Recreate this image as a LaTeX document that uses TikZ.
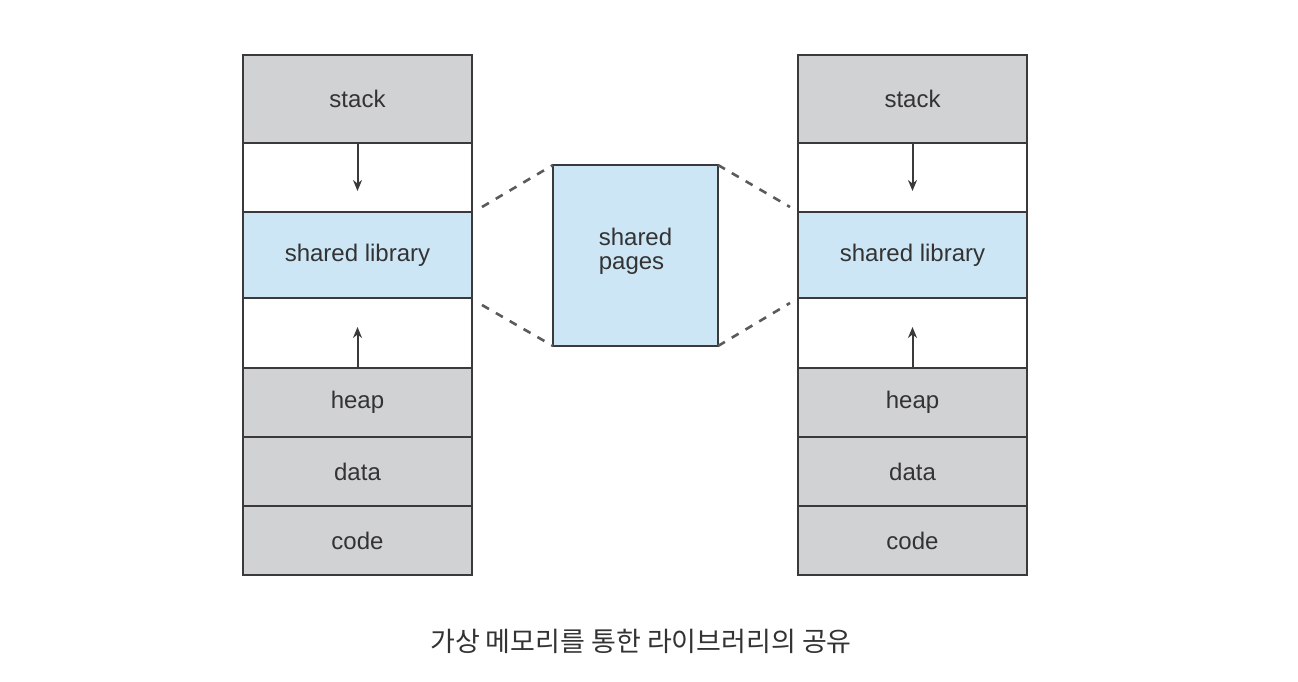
\documentclass[tikz,border=0pt]{standalone}
\usepackage{fontspec}
\setmainfont{Liberation Sans}
\newfontfamily\cjk{Noto Sans CJK KR}
\usetikzlibrary{arrows.meta}
\definecolor{segray}{HTML}{D1D2D4}
\definecolor{seblue}{HTML}{CDE6F5}
\definecolor{edge}{HTML}{3A3A3A}
\definecolor{dashcol}{HTML}{5A5A5A}
\definecolor{txt}{HTML}{333333}
\tikzset{
  seg/.style={draw=edge, line width=2pt, inner sep=0pt, outer sep=0pt, minimum width=229pt, text=txt, font=\fontsize{24}{28}\selectfont},
  grayseg/.style={seg, fill=segray},
  blueseg/.style={seg, fill=seblue},
  freeseg/.style={seg, fill=white},
  dashline/.style={draw=dashcol, line width=2.6pt, dash pattern=on 8pt off 8pt},
  growarrow/.style={draw=edge, line width=2pt, -{Stealth[length=11pt,width=9pt]}},
}
\begin{document}
\begin{tikzpicture}[x=1pt,y=-1pt]
\useasboundingbox (0,0) rectangle (1298,682);
% left column
\node[grayseg, minimum height=88pt] (Lstack) at (357.5,99) {stack};
\node[freeseg, minimum height=69pt] (Lfree1) at (357.5,177.5) {};
\node[blueseg, minimum height=86pt] (Lshlib) at (357.5,255) {shared library};
\node[freeseg, minimum height=70pt] (Lfree2) at (357.5,333) {};
\node[grayseg, minimum height=69pt] (Lheap) at (357.5,402.5) {heap};
\node[grayseg, minimum height=69pt] (Ldata) at (357.5,471.5) {data};
\node[grayseg, minimum height=69pt] (Lcode) at (357.5,540.5) {code};
% right column
\node[grayseg, minimum height=88pt] (Rstack) at (912.5,99) {stack};
\node[freeseg, minimum height=69pt] (Rfree1) at (912.5,177.5) {};
\node[blueseg, minimum height=86pt] (Rshlib) at (912.5,255) {shared library};
\node[freeseg, minimum height=70pt] (Rfree2) at (912.5,333) {};
\node[grayseg, minimum height=69pt] (Rheap) at (912.5,402.5) {heap};
\node[grayseg, minimum height=69pt] (Rdata) at (912.5,471.5) {data};
\node[grayseg, minimum height=69pt] (Rcode) at (912.5,540.5) {code};
% shared pages
\node[blueseg, minimum width=165pt, minimum height=181pt] (mid) at (635.5,255.5) {};
\node[text=txt, font=\fontsize{24}{28}\selectfont, align=left, inner sep=0pt] (midlabel) at (635.5,251) {shared\\[-4pt]pages};
% arrows
\coordinate (LaEnd1) at (357.5,191);
\coordinate (LaEnd2) at (357.5,327);
\coordinate (RaEnd1) at (912.5,191);
\coordinate (RaEnd2) at (912.5,327);
\draw[growarrow] (Lstack.south) -- (LaEnd1);
\draw[growarrow] (Lheap.north) -- (LaEnd2);
\draw[growarrow] (Rstack.south) -- (RaEnd1);
\draw[growarrow] (Rheap.north) -- (RaEnd2);
% dashed lines
\coordinate (dl1) at (482,207);
\coordinate (dl2) at (482,305);
\coordinate (dr1) at (790,207);
\coordinate (dr2) at (790,303);
\draw[dashline] (dl1) -- (mid.north west);
\draw[dashline] (dl2) -- (mid.south west);
\draw[dashline] (mid.north east) -- (dr1);
\draw[dashline] (mid.south east) -- (dr2);
% caption
\node[text=txt, font=\cjk\fontsize{27}{31}\selectfont] (caption) at (641,641) {가상 메모리를 통한 라이브러리의 공유};
\end{tikzpicture}
\end{document}
